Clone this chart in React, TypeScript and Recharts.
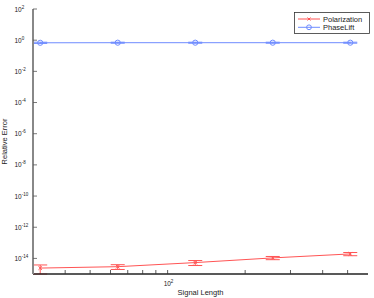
import { ComposedChart, Line, XAxis, YAxis, ErrorBar, Legend } from 'recharts';

const signalLength = [32, 64, 128, 256, 512];
const polarization = [2.4e-15, 2.95e-15, 5.4e-15, 1.08e-14, 1.94e-14];
const polarizationErr = [1.4e-15, 1.0e-15, 1.9e-15, 2.5e-15, 4.5e-15];
const phaseLift = [0.68, 0.69, 0.69, 0.69, 0.69];
const phaseLiftErr = [0.06, 0.05, 0.05, 0.05, 0.05];

const xTicks = [40, 50, 60, 70, 80, 90, 100, 200, 300, 400, 500];
const yTicks = [1e2, 1, 1e-2, 1e-4, 1e-6, 1e-8, 1e-10, 1e-12, 1e-14];

const RED = '#ff5555';
const BLUE = '#6f8cff';
const FONT = '"Liberation Sans", Arial, sans-serif';

const data = signalLength.map((n, i) => ({
  n,
  pol: polarization[i],
  polErr: polarizationErr[i],
  pl: phaseLift[i],
  plErr: phaseLiftErr[i],
}));

const BottomTick = ({ x, y, payload }: any) => (
  <g>
    <line x1={x} y1={y} x2={x} y2={y - 4} stroke="#333" strokeWidth={0.8} />
    {payload.value === 100 && (
      <text x={x - 4} y={y + 12} fontSize={6.5} fontFamily={FONT} fill="#222">
        10
        <tspan dy={-3} fontSize={4.5}>2</tspan>
      </text>
    )}
  </g>
);

const TopTick = ({ x, y }: any) => (
  <line x1={x} y1={y} x2={x} y2={y + 4} stroke="#555" strokeWidth={0.8} />
);

const LeftTick = ({ x, y, payload }: any) => {
  const e = Math.round(Math.log10(payload.value));
  return (
    <g>
      <line x1={x} y1={y} x2={x + 4} y2={y} stroke="#555" strokeWidth={0.8} />
      <text x={14.5} y={y + 2.5} fontSize={6.5} fontFamily={FONT} fill="#222">
        10
        <tspan dy={-3} fontSize={4.5}>{e}</tspan>
      </text>
    </g>
  );
};

const RightTick = ({ x, y }: any) => (
  <line x1={x} y1={y} x2={x - 4} y2={y} stroke="#555" strokeWidth={0.8} />
);

const XDot = (p: any) => (
  <g key={`x${p.index}`}>
    <line x1={p.cx - 1.8} y1={p.cy - 1.8} x2={p.cx + 1.8} y2={p.cy + 1.8} stroke={RED} strokeWidth={1} />
    <line x1={p.cx - 1.8} y1={p.cy + 1.8} x2={p.cx + 1.8} y2={p.cy - 1.8} stroke={RED} strokeWidth={1} />
  </g>
);

const ODot = (p: any) => (
  <circle key={`o${p.index}`} cx={p.cx} cy={p.cy} r={2.6} fill="none" stroke={BLUE} strokeWidth={1} />
);

const LegendBox = () => (
  <svg width={76} height={22} style={{ display: 'block' }}>
    <rect x={0.5} y={0.5} width={75} height={21} fill="#fff" stroke="#333" strokeWidth={0.8} />
    <line x1={4} y1={7} x2={26} y2={7} stroke={RED} strokeWidth={1} />
    <line x1={13.5} y1={5.5} x2={16.5} y2={8.5} stroke={RED} strokeWidth={1} />
    <line x1={13.5} y1={8.5} x2={16.5} y2={5.5} stroke={RED} strokeWidth={1} />
    <text x={29} y={9.6} fontSize={7.5} fontFamily={FONT} fill="#222">Polarization</text>
    <line x1={4} y1={15.3} x2={26} y2={15.3} stroke={BLUE} strokeWidth={1} />
    <circle cx={15} cy={15.3} r={2.4} fill="none" stroke={BLUE} strokeWidth={1} />
    <text x={29} y={17.9} fontSize={7.5} fontFamily={FONT} fill="#222">PhaseLift</text>
  </svg>
);

export default function App() {
  return (
    <div style={{ position: 'absolute', left: 0, top: 0, width: 374, height: 298, background: '#fff' }}>
      <ComposedChart width={374} height={298} data={data} margin={{ top: 9, right: 6, bottom: 0, left: 0 }}>
        <XAxis
          dataKey="n"
          type="number"
          scale="log"
          domain={[30, 600]}
          allowDataOverflow
          ticks={xTicks}
          interval={0}
          tick={BottomTick}
          tickLine={false}
          tickSize={0}
          tickMargin={0}
          height={24}
          axisLine={{ stroke: '#222', strokeWidth: 1.3 }}
          label={{ value: 'Signal Length', position: 'insideBottom', offset: 3, fontSize: 7.5, fontFamily: FONT, fill: '#222' }}
        />
        <XAxis
          xAxisId="top"
          dataKey="n"
          type="number"
          scale="log"
          orientation="top"
          domain={[30, 600]}
          allowDataOverflow
          ticks={xTicks}
          interval={0}
          tick={TopTick}
          tickLine={false}
          tickSize={0}
          tickMargin={0}
          height={0}
          axisLine={{ stroke: '#999', strokeWidth: 0.8 }}
        />
        <YAxis
          type="number"
          scale="log"
          domain={[1e-15, 1e2]}
          allowDataOverflow
          ticks={yTicks}
          interval={0}
          tick={LeftTick}
          tickLine={false}
          tickSize={0}
          tickMargin={0}
          width={33}
          axisLine={{ stroke: '#888', strokeWidth: 2 }}
          label={{ value: 'Relative Error', angle: -90, position: 'insideLeft', offset: 4, fontSize: 7.5, fontFamily: FONT, fill: '#222', style: { textAnchor: 'middle' } }}
        />
        <YAxis
          yAxisId="right"
          orientation="right"
          type="number"
          scale="log"
          domain={[1e-15, 1e2]}
          allowDataOverflow
          ticks={yTicks}
          interval={0}
          tick={RightTick}
          tickLine={false}
          tickSize={0}
          tickMargin={0}
          width={0}
          axisLine={{ stroke: '#999', strokeWidth: 0.8 }}
        />
        <Legend
          layout="horizontal"
          verticalAlign="middle"
          align="center"
          content={LegendBox}
          wrapperStyle={{ position: 'absolute', left: 294, top: 12, width: 76, height: 22 }}
        />
        <Line dataKey="pol" stroke={RED} strokeWidth={1} dot={XDot} isAnimationActive={false}>
          <ErrorBar dataKey="polErr" width={7} stroke={RED} strokeWidth={1} isAnimationActive={false} />
        </Line>
        <Line dataKey="pl" stroke={BLUE} strokeWidth={1} dot={ODot} isAnimationActive={false}>
          <ErrorBar dataKey="plErr" width={7} stroke={BLUE} strokeWidth={1} isAnimationActive={false} />
        </Line>
      </ComposedChart>
    </div>
  );
}
